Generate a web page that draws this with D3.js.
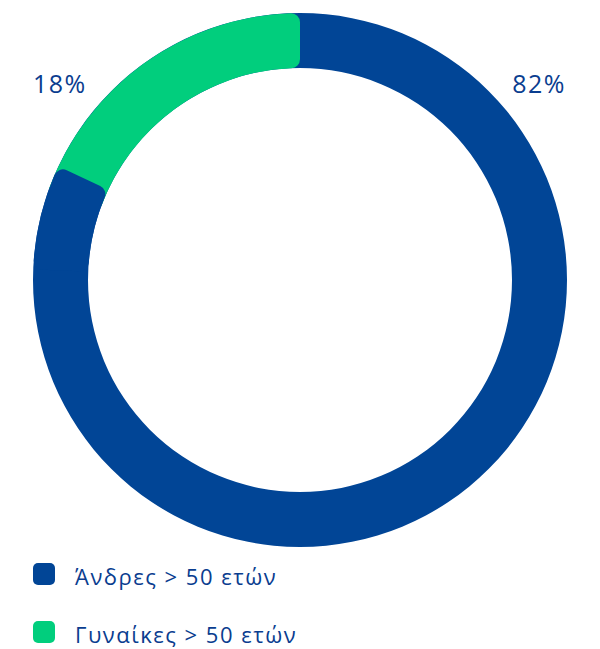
<!DOCTYPE html>
<html>
<head>
<meta charset="utf-8">
<script src="https://cdn.jsdelivr.net/npm/d3@7"></script>
<style>
  html, body { margin: 0; padding: 0; background: #fff; }
  svg { display: block; }
  text { font-family: "Open Sans", "Noto Sans", sans-serif; }
</style>
</head>
<body>
<svg id="chart" width="600" height="649"></svg>
<script>
// Share of employees over 50, by gender
const categories = ["Άνδρες > 50 ετών", "Γυναίκες > 50 ετών"];
const values = [82, 18];
const valueLabels = ["82%", "18%"];
const colors = ["#014596", "#01ce7d"];

const svg = d3.select("#chart");
const cx = 300, cy = 280;
const outerR = 267, innerR = 212;
const corner = 9;
const textColor = "#0a3d8f";

const pie = d3.pie().sort(null).value(d => d);
const arcs = pie(values);

const g = svg.append("g").attr("transform", `translate(${cx},${cy})`);

const ring = d3.arc().innerRadius(innerR).outerRadius(outerR);
const rounded = d3.arc().innerRadius(innerR).outerRadius(outerR).cornerRadius(corner);

// base ring in the first slice colour so rounded ends never leave gaps
g.append("path")
  .attr("d", ring({ startAngle: 0, endAngle: 2 * Math.PI }))
  .attr("fill", colors[0]);

// second slice, rounded at both ends, laid over the base ring
const a1 = arcs[1];
g.append("path")
  .attr("d", rounded({ startAngle: a1.startAngle - 0.12, endAngle: a1.endAngle }))
  .attr("fill", colors[1]);

// rounded tail of the first slice overlapping the start of the second
const a0 = arcs[0];
g.append("path")
  .attr("d", rounded({ startAngle: a0.endAngle - 0.4, endAngle: a0.endAngle }))
  .attr("fill", colors[0]);

// value labels at the top corners
const labelPos = [
  { x: 566, anchor: "end" },
  { x: 33, anchor: "start" }
];
svg.selectAll("text.val")
  .data(valueLabels)
  .join("text")
  .attr("class", "val")
  .attr("x", (d, i) => labelPos[i].x)
  .attr("y", 93)
  .attr("text-anchor", (d, i) => labelPos[i].anchor)
  .attr("font-size", 25)
  .attr("letter-spacing", "1.5px")
  .attr("fill", textColor)
  .text(d => d);

// legend
const legend = svg.append("g").attr("transform", "translate(33,563)");
const item = legend.selectAll("g")
  .data(categories)
  .join("g")
  .attr("transform", (d, i) => `translate(0,${i * 58})`);
item.append("rect")
  .attr("width", 22).attr("height", 22)
  .attr("rx", 5).attr("ry", 5)
  .attr("fill", (d, i) => colors[i]);
item.append("text")
  .attr("x", 42)
  .attr("y", 22)
  .attr("font-size", 22)
  .attr("letter-spacing", "1.5px")
  .attr("fill", textColor)
  .text(d => d);
</script>
</body>
</html>
